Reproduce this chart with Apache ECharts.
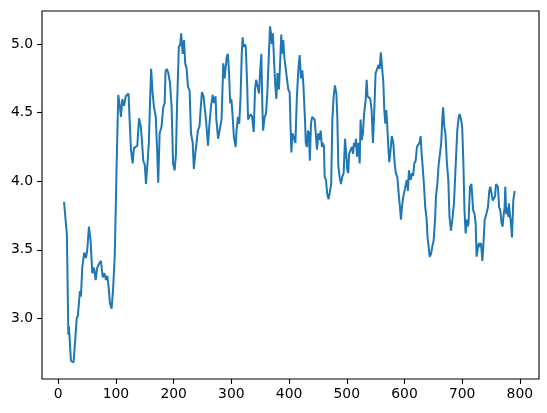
<!DOCTYPE html>
<html>
<head>
<meta charset="utf-8">
<script src="https://cdn.jsdelivr.net/npm/echarts@6/dist/echarts.min.js"></script>
<style>html,body{margin:0;padding:0;background:#fff}#c{width:547px;height:413px}</style>
</head>
<body>
<div id="c"></div>
<script>
const xs = [10,12,15,17.5,18.5,22,26.5,29,32,34,37.6,39.3,41.6,45,48,50.3,53.2,56,59,62,64.8,67.6,71,74,77,80,82.7,85,87.3,89.6,92.5,95.3,98,101,104,107,108.7,111,114,117,121.8,123.7,126,129,
131,134,137,140,143,145,147.4,150,152,155,157,159,161,163.6,166,169,171.6,173.3,175.7,179,182,184.4,186,188,190.7,193.6,196.5,199,201.7,204,206,209,211.5,213,215.6,218,220,222.5,224.8,227.7,230,233,235,237.5,240,242,244.8,247,249,251.8,254,256,259.5,
261.7,264.6,267.6,270,272.6,274,275.6,277,280,283,286,288.4,290,292,294,296,298,300,302,304.5,307.5,309,311.4,313.7,316,318,319.6,321,323.6,325,327.5,329,331,333.4,336,338.7,341,343,345.6,348,350,352,353.6,355,357.7,360,362.3,364.6,367,368.6,370,372,374,376,378,380,382.5,385,386.5,388,390,391.7,394,396,398.6,401,402.8,404,406,409,
411,413.4,416,418.4,420.6,423,425,427.6,429,431,432.8,434.5,436,438,440,442,444.4,446.6,448.4,450.6,452.4,454.8,457,458.8,460.5,461.7,464,466,468.6,471,473,475,477.3,479.5,482,483.6,485.4,487.7,490,492,494.6,497,499,501,502.6,504,506.8,509,510.8,512.5,514,516,517.7,520,522.4,524,526,528,530,532.7,534.5,536,538.5,540.8,543,545.4,548,
550,552,555,557,559,561,563.4,565,566.8,568.5,570,572,573.7,576,578,580.7,583,585,587.6,590,592,594,595.6,598,600,602.6,604,606,607.8,609.5,611,613,615,617,619.4,621.6,624,626,628,629.8,632,634,636,638.5,640,642,643.7,646,648,650.6,653,654.6,657,659,661.5,663.7,665.5,667,669,671,673.6,676,678,680.6,683,685.8,
687.5,691.5,694,695.7,698,700,702,704,706,708,709.5,711,713.5,716,717.5,719,721.6,723.4,725,727.4,729,731,732.6,735,736.6,739,740.7,742.5,744.7,747,748.7,751,753,754.6,757,758.6,760,762,764,766,768.5,770,772,773.6,774.7,776.4,778,780,781,782.8,784.6,786.3,788.6,791];
const ys = [3.85,3.84,3.61,2.88,2.94,2.69,2.68,2.82,3.00,3.02,3.20,3.16,3.37,3.48,3.44,3.50,3.67,3.57,3.33,3.37,3.28,3.37,3.40,3.42,3.30,3.33,3.28,3.31,3.23,3.11,3.07,3.23,3.47,4.08,4.63,4.54,4.47,4.60,4.55,4.62,4.64,4.45,4.23,4.13,
4.24,4.25,4.26,4.46,4.40,4.30,4.15,4.12,3.98,4.15,4.28,4.57,4.82,4.64,4.54,4.47,4.20,3.99,4.35,4.40,4.54,4.57,4.80,4.82,4.79,4.72,4.54,4.13,4.08,4.20,4.57,4.98,5.00,5.08,4.93,5.03,4.86,4.82,4.69,4.66,4.35,4.28,4.09,4.20,4.19,4.37,4.40,4.54,4.65,4.62,4.53,4.45,4.26,
4.40,4.54,4.63,4.57,4.62,4.45,4.38,4.31,4.30,4.45,4.86,4.75,4.74,4.91,4.93,4.79,4.57,4.60,4.49,4.32,4.25,4.37,4.47,4.42,4.62,4.93,5.05,4.98,5.00,4.98,4.69,4.45,4.47,4.49,4.47,4.36,4.67,4.74,4.69,4.64,4.81,4.93,4.57,4.37,4.47,4.49,4.64,4.88,5.13,5.08,5.00,5.08,4.88,4.71,4.60,4.79,4.67,4.91,5.07,4.93,5.03,4.91,4.83,4.76,4.67,4.65,4.37,4.21,4.35,4.36,
4.28,4.60,4.81,4.92,4.75,4.81,4.69,4.45,4.28,4.25,4.37,4.35,4.15,4.42,4.47,4.48,4.45,4.45,4.23,4.35,4.30,4.37,4.25,4.28,4.25,4.03,4.01,3.91,3.87,3.93,3.98,4.45,4.62,4.70,4.64,4.47,4.11,4.03,3.98,4.03,4.06,4.31,4.20,4.08,4.06,4.20,4.23,4.25,4.20,4.28,4.25,4.31,4.18,4.28,4.13,4.45,4.30,4.35,4.49,4.59,4.74,4.62,4.61,4.60,4.52,4.28,4.55,
4.79,4.81,4.85,4.82,4.94,4.94,4.72,4.52,4.42,4.52,4.42,4.25,4.14,4.23,4.33,4.28,4.13,4.06,4.03,3.91,3.82,3.72,3.81,3.89,3.93,3.93,4.01,3.93,4.08,4.03,4.01,4.06,4.04,4.13,4.15,4.25,4.26,4.28,4.33,4.20,4.08,3.96,3.81,3.72,3.59,3.52,3.45,3.47,3.52,3.57,3.72,3.89,3.98,4.11,4.20,4.28,4.45,4.54,4.40,4.35,4.13,4.01,3.74,3.64,3.72,3.84,
3.85,4.37,4.47,4.49,4.45,4.40,4.15,3.79,3.62,3.72,3.67,3.69,3.96,3.98,3.89,3.79,3.76,3.69,3.45,3.52,3.55,3.52,3.55,3.42,3.52,3.72,3.74,3.74,3.81,3.93,3.96,3.91,3.86,3.86,3.89,3.98,3.98,3.96,3.81,3.79,3.69,3.67,3.76,3.81,3.96,3.76,3.81,3.74,3.84,3.76,3.69,3.59,3.86,3.93];
const xTicks = [0,100,200,300,400,500,600,700,800];
const yTicks = [3.0,3.5,4.0,4.5,5.0];

const data = xs.map((x,i)=>[x, ys[i]]);
const chart = echarts.init(document.getElementById('c'), null, {renderer:'canvas'});
const font = {fontFamily:'DejaVu Sans', fontSize:13.9, color:'#000'};
chart.setOption({
  animation:false,
  backgroundColor:'#fff',
  grid:{left:42, right:8, top:11, bottom:34, show:true, borderColor:'#000', borderWidth:1.1, containLabel:false},
  xAxis:{type:'value', min:-28.15, max:833.15,
    axisLine:{show:false, onZero:false}, splitLine:{show:false},
    axisTick:{show:true, inside:false, length:4.9, customValues:xTicks, lineStyle:{color:'#000', width:1.1}},
    axisLabel:Object.assign({customValues:xTicks, margin:8, formatter:v=>String(v)}, font)},
  yAxis:{type:'value', min:2.558, max:5.242,
    axisLine:{show:false, onZero:false}, splitLine:{show:false},
    axisTick:{show:true, inside:false, length:4.9, customValues:yTicks, lineStyle:{color:'#000', width:1.1}},
    axisLabel:Object.assign({customValues:yTicks, margin:9, formatter:v=>v.toFixed(1)}, font)},
  series:[{type:'line', data:data, showSymbol:false, symbol:'none', lineStyle:{color:'#1f77b4', width:2}, itemStyle:{color:'#1f77b4'}}]
});
</script>
</body>
</html>
